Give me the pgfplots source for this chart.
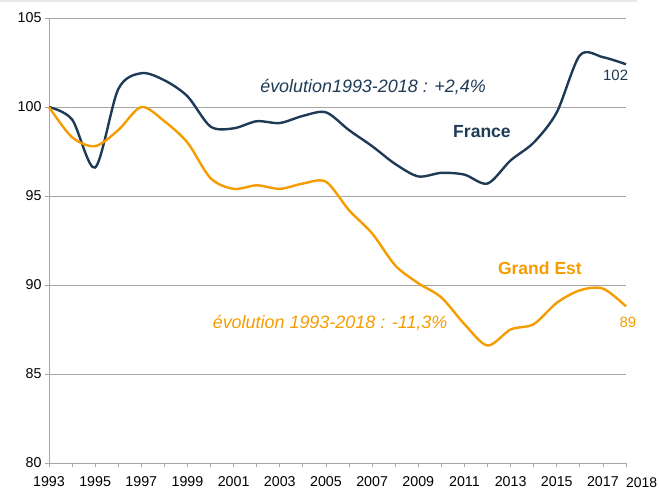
\documentclass[border=0pt]{standalone}
\usepackage{pgfplots}
\pgfplotsset{compat=1.18}
\usepackage{fontspec}
\setmainfont{Liberation Sans}
\definecolor{fr}{HTML}{1F3A56}
\definecolor{ge}{HTML}{F59C00}
\definecolor{grd}{HTML}{A6A6A6}

\begin{document}
\begin{tikzpicture}
\begin{axis}[at={(0,0)}, anchor=south west, scale only axis,
  width=577bp, height=445bp,
  xmin=1993, xmax=2018, ymin=80, ymax=105,
  ytick={80,85,...,105}, xtick={1993,1995,...,2017}, minor xtick={1994,1996,...,2018},
  ymajorgrids, major grid style={grd, line width=0.9bp},
  axis x line*=bottom, axis y line*=left,
  axis line style={grd, line width=0.9bp},
  tick style={grd, line width=0.8bp},
  xtick pos=bottom, ytick pos=left, tick align=outside,
  minor tick length=4bp, major tick length=4bp,
  xticklabel style={font=\fontsize{14.3}{15}\selectfont, yshift=-6bp},
  yticklabel style={font=\fontsize{14.3}{15}\selectfont},
  /pgf/number format/assume math mode=true,
  /pgf/number format/1000 sep={},
  clip=false]
\addplot[fr, line width=2.4bp, smooth, tension=0.5] coordinates {
  (1993,100.0) (1994,99.3) (1995,96.6) (1996,101.0) (1997,101.9)
  (1998,101.5) (1999,100.6) (2000,98.9) (2001,98.8) (2002,99.2)
  (2003,99.1) (2004,99.5) (2005,99.7) (2006,98.7) (2007,97.8)
  (2008,96.8) (2009,96.1) (2010,96.3) (2011,96.2) (2012,95.7)
  (2013,97.0) (2014,98.0) (2015,99.7) (2016,102.9) (2017,102.8)
  (2018,102.4)};
\addplot[ge, line width=2.4bp, smooth, tension=0.5] coordinates {
  (1993,100.0) (1994,98.3) (1995,97.8) (1996,98.7) (1997,100.0)
  (1998,99.2) (1999,98.0) (2000,96.0) (2001,95.4) (2002,95.6)
  (2003,95.4) (2004,95.7) (2005,95.8) (2006,94.2) (2007,92.9)
  (2008,91.1) (2009,90.1) (2010,89.3) (2011,87.8) (2012,86.6)
  (2013,87.5) (2014,87.8) (2015,89.0) (2016,89.7) (2017,89.8)
  (2018,88.8)};
\node[fr, font=\fontsize{18}{19}\selectfont\itshape] at (axis cs:2007.04,101.12) {évolution1993-2018 : +2,4\%};
\node[fr, font=\fontsize{17.6}{18}\selectfont\bfseries] at (axis cs:2011.76,98.6) {France};
\node[fr, font=\fontsize{15}{16}\selectfont] at (axis cs:2017.55,101.8) {102};
\node[ge, font=\fontsize{17.6}{18}\selectfont\bfseries] at (axis cs:2014.27,90.96) {Grand Est};
\node[ge, font=\fontsize{18}{19}\selectfont\itshape] at (axis cs:2005.18,87.87) {évolution 1993-2018 : -11,3\%};
\node[ge, font=\fontsize{15}{16}\selectfont] at (axis cs:2018.08,87.92) {89};
\node[font=\fontsize{14}{15}\selectfont, inner sep=0pt] at (axis cs:2018.68,78.92) {2018};
\end{axis}
\fill[black!9] (-49bp,463bp) rectangle (588bp,461bp);
\pgfresetboundingbox
\path[use as bounding box] (-49bp,-26bp) rectangle (610bp,463bp);
\end{tikzpicture}
\end{document}
